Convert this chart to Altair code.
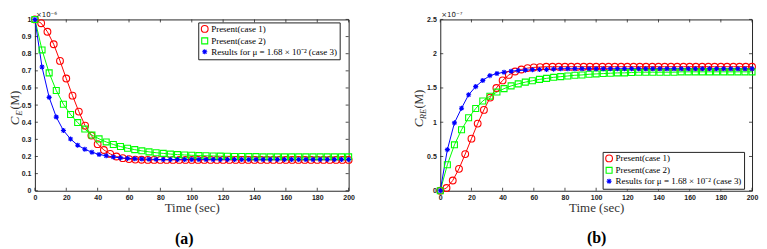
import altair as alt
import pandas as pd

# ---------------- data ----------------
SERIES = ["Present(case 1)", "Present(case 2)", "Results for μ = 1.68 × 10⁻² (case 3)"]
COLORS = ["#ff0000", "#00ff00", "#0000ff"]

T_CASE1 = [0, 4, 8, 12, 16, 20, 24, 28, 32, 36, 40, 44, 48, 52, 56, 60, 64, 68, 72, 76,
           80, 84, 88, 92, 96, 100, 104, 108, 112, 116, 120, 124, 128, 132, 136, 140,
           144, 148, 152, 156, 160, 164, 168, 172, 176, 180, 184, 188, 192, 196, 200]
T_CASE23 = [0, 4.55, 9.09, 13.64, 18.18, 22.73, 27.27, 31.82, 36.36, 40.91, 45.45, 50,
            54.55, 59.09, 63.64, 68.18, 72.73, 77.27, 81.82, 86.36, 90.91, 95.45, 100,
            104.55, 109.09, 113.64, 118.18, 122.73, 127.27, 131.82, 136.36, 140.91,
            145.45, 150, 154.55, 159.09, 163.64, 168.18, 172.73, 177.27, 181.82, 186.36,
            190.91, 195.45, 200]

# panel (a): C_E in units of 1e-6 M
A_CASE1 = [1.0, 0.978, 0.928, 0.855, 0.758, 0.655, 0.555, 0.462, 0.38, 0.322, 0.272, 0.238,
           0.215, 0.2, 0.19, 0.185, 0.182, 0.181, 0.18, 0.18, 0.18, 0.18, 0.18, 0.18, 0.18,
           0.18, 0.18, 0.18, 0.18, 0.18, 0.18, 0.18, 0.18, 0.18, 0.18, 0.18, 0.18, 0.18,
           0.18, 0.18, 0.18, 0.18, 0.18, 0.18, 0.18, 0.18, 0.18, 0.18, 0.18, 0.18, 0.18]
A_CASE2 = [1.0, 0.822, 0.688, 0.585, 0.505, 0.445, 0.398, 0.36, 0.325, 0.303, 0.285, 0.27,
           0.258, 0.248, 0.24, 0.233, 0.227, 0.222, 0.218, 0.214, 0.211, 0.209, 0.207,
           0.205, 0.204, 0.203, 0.202, 0.201, 0.2, 0.2, 0.199, 0.199, 0.198, 0.198, 0.198,
           0.198, 0.198, 0.198, 0.198, 0.198, 0.198, 0.198, 0.198, 0.198, 0.198]
A_CASE3 = [1.0, 0.722, 0.545, 0.43, 0.352, 0.302, 0.266, 0.242, 0.225, 0.212, 0.204, 0.197,
           0.192, 0.189, 0.187, 0.185, 0.184, 0.183, 0.182, 0.182, 0.182, 0.182, 0.182,
           0.182, 0.182, 0.182, 0.182, 0.182, 0.182, 0.182, 0.182, 0.182, 0.182, 0.182,
           0.182, 0.182, 0.182, 0.182, 0.182, 0.182, 0.182, 0.182, 0.182, 0.182, 0.182]

# panel (b): C_RE in units of 1e-7 M
B_CASE1 = [0.0, 0.04, 0.15, 0.32, 0.535, 0.76, 0.98, 1.18, 1.36, 1.5, 1.61, 1.69, 1.74,
           1.77, 1.79, 1.8, 1.805, 1.81, 1.81, 1.81, 1.81, 1.81, 1.81, 1.81, 1.81, 1.81,
           1.81, 1.81, 1.81, 1.81, 1.81, 1.81, 1.81, 1.81, 1.81, 1.81, 1.81, 1.81, 1.81,
           1.81, 1.81, 1.81, 1.81, 1.81, 1.81, 1.81, 1.81, 1.81, 1.81, 1.81, 1.81]
B_CASE2 = [0.0, 0.38, 0.67, 0.89, 1.065, 1.2, 1.31, 1.38, 1.44, 1.49, 1.53, 1.56, 1.585,
           1.605, 1.625, 1.64, 1.655, 1.665, 1.675, 1.685, 1.69, 1.7, 1.705, 1.71, 1.715,
           1.72, 1.72, 1.725, 1.73, 1.73, 1.73, 1.73, 1.73, 1.73, 1.735, 1.735, 1.735,
           1.735, 1.735, 1.735, 1.735, 1.735, 1.735, 1.735, 1.735]
B_CASE3 = [0.0, 0.6, 0.99, 1.205, 1.4, 1.52, 1.61, 1.68, 1.71, 1.73, 1.745, 1.755, 1.76,
           1.765, 1.77, 1.77, 1.775, 1.78, 1.78, 1.78, 1.78, 1.78, 1.78, 1.78, 1.78, 1.78,
           1.78, 1.78, 1.78, 1.78, 1.78, 1.78, 1.78, 1.78, 1.78, 1.78, 1.78, 1.78, 1.78,
           1.78, 1.78, 1.78, 1.78, 1.78, 1.78]

X_TICKS = [0, 20, 40, 60, 80, 100, 120, 140, 160, 180, 200]
A_Y_TICKS = [0, 0.1, 0.2, 0.3, 0.4, 0.5, 0.6, 0.7, 0.8, 0.9, 1]
B_Y_TICKS = [0, 0.5, 1, 1.5, 2, 2.5]

ASTERISK = "M-1,0L1,0M0,-1L0,1M-0.72,-0.72L0.72,0.72M-0.72,0.72L0.72,-0.72"
SERIF = "'Liberation Serif', 'Times New Roman', serif"
SANS = "'Liberation Sans', Arial, sans-serif"
FRAME = "#262626"


def make_df(c1, c2, c3):
    rows = []
    for t, v in zip(T_CASE1, c1):
        rows.append({"t": t, "v": v, "s": SERIES[0]})
    for t, v in zip(T_CASE23, c2):
        rows.append({"t": t, "v": v, "s": SERIES[1]})
    for t, v in zip(T_CASE23, c3):
        rows.append({"t": t, "v": v, "s": SERIES[2]})
    return pd.DataFrame(rows)


def text_layer(txt, x, y, size, angle=0, style="normal", weight="normal",
               font=SERIF, align="center", baseline="middle", color="black"):
    return alt.Chart(alt.Data(values=[{"k": 1}])).mark_text(
        text=txt, font=font, fontSize=size, fontStyle=style, fontWeight=weight,
        angle=angle, align=align, baseline=baseline, color=color
    ).encode(x=alt.value(x), y=alt.value(y))


def panel(df, yticks, ymax, W, H, exp_txt, ytitle_parts, leg_xy, tag, tag_xy):
    xs = alt.Scale(domain=[0, 200], nice=False)
    ys = alt.Scale(domain=[0, ymax], nice=False)
    cs = alt.Scale(domain=SERIES, range=COLORS)
    ss = alt.Scale(domain=SERIES, range=["circle", "square", ASTERISK])
    zs = alt.Scale(domain=SERIES, range=[46, 26, 56])

    xaxis = alt.Axis(values=X_TICKS, tickSize=0, domain=False, grid=False,
                     labelFont=SANS, labelFontSize=7, labelFontWeight="bold",
                     labelColor="#222222", labelPadding=3, labelFlush=False,
                     title="Time (sec)", titleFont=SERIF, titleFontSize=13,
                     titleFontWeight="normal", titleColor="#333333", titlePadding=1)
    yaxis = alt.Axis(values=yticks, format="~g", tickSize=0, domain=False, grid=False,
                     labelFont=SANS, labelFontSize=7, labelFontWeight="bold",
                     labelColor="#222222", labelPadding=4, title=None, labelFlush=False)
    legend = alt.Legend(title=None, orient="none", legendX=leg_xy[0], legendY=leg_xy[1],
                        strokeColor="#222222", fillColor="white", padding=2,
                        labelFont=SERIF, labelFontSize=9, labelColor="black",
                        labelFontWeight="normal",
                        labelOffset=2, symbolSize=24, symbolStrokeWidth=1.1,
                        rowPadding=0, labelLimit=300)

    X = alt.X("t:Q", scale=xs, axis=xaxis, title="Time (sec)")
    Y = alt.Y("v:Q", scale=ys, axis=yaxis, title=None)
    C = alt.Color("s:N", scale=cs, legend=legend, sort=SERIES)

    base = alt.Chart(df)
    lines = base.mark_line(strokeWidth=1).encode(x=X, y=Y, color=C, detail="s:N")
    points = base.mark_point(filled=False, strokeWidth=1.1, opacity=1).encode(
        x=X, y=Y, color=C,
        shape=alt.Shape("s:N", scale=ss, legend=legend, sort=SERIES),
        size=alt.Size("s:N", scale=zs, legend=None),
    )

    xt = pd.DataFrame({"t": X_TICKS})
    yt = pd.DataFrame({"v": yticks})
    tick_style = dict(color=FRAME, strokeWidth=0.8)
    xb = alt.Chart(xt).mark_rule(**tick_style).encode(
        x=X, y=alt.value(H), y2=alt.value(H - 3))
    xtp = alt.Chart(xt).mark_rule(**tick_style).encode(
        x=X, y=alt.value(0), y2=alt.value(3))
    yl = alt.Chart(yt).mark_rule(**tick_style).encode(
        y=Y, x=alt.value(0), x2=alt.value(3))
    yr = alt.Chart(yt).mark_rule(**tick_style).encode(
        y=Y, x=alt.value(W - 3), x2=alt.value(W))

    extras = [text_layer(exp_txt, 1, -1, 7, font="'DejaVu Sans', sans-serif", align="left",
                         baseline="bottom", color="#222222")]
    for (txt, x, y, size, style) in ytitle_parts:
        extras.append(text_layer(txt, x, y, size, angle=270, style=style, color="#333333"))
    extras.append(text_layer(tag, tag_xy[0], tag_xy[1], 16, weight="bold"))

    return alt.layer(xb, xtp, yl, yr, lines, points, *extras).properties(width=W, height=H)


WA, HA = 315, 172
WB, HB = 313, 172

panel_a = panel(make_df(A_CASE1, A_CASE2, A_CASE3), A_Y_TICKS, 1.0, WA, HA, "×10⁻⁶",
                [("C", -20, 102, 13, "italic"), ("E", -16, 94, 9, "italic"),
                 ("(M)", -20, 81, 12, "normal")],
                (164, 3), "(a)", (150, 220))
panel_b = panel(make_df(B_CASE1, B_CASE2, B_CASE3), B_Y_TICKS, 2.5, WB, HB, "×10⁻⁷",
                [("C", -21, 104, 13, "italic"), ("RE", -17, 95, 8.5, "italic"),
                 ("(M)", -21, 80, 12, "normal")],
                (163, 133), "(b)", (157, 219))

chart = alt.hconcat(panel_a, panel_b, spacing=57).resolve_scale(
    color="independent", shape="independent", size="independent"
).resolve_legend(color="independent", shape="independent").properties(
    padding={"left": 0, "top": 2, "right": 0, "bottom": 0}
).configure_view(stroke=FRAME, strokeWidth=1)

chart.save("out.html", embed_options={"renderer": "svg", "actions": False})
